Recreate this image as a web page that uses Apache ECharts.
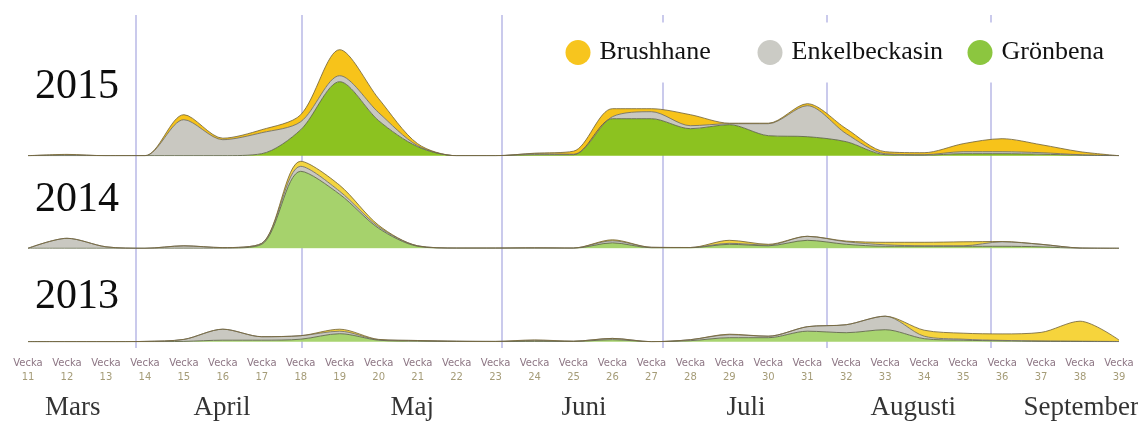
<!DOCTYPE html>
<html>
<head>
<meta charset="utf-8">
<script src="https://cdn.jsdelivr.net/npm/echarts@6/dist/echarts.min.js"></script>
<style>
html,body{margin:0;padding:0;background:#fff;}
#c{width:1138px;height:421px;}
</style>
</head>
<body>
<div id="c"></div>
<script>
// ---- data ----
const weeks = [11,12,13,14,15,16,17,18,19,20,21,22,23,24,25,26,27,28,29,30,31,32,33,34,35,36,37,38,39];
const weekLabels = ['11','12','13','14','15','16','17','18','19','20','21','22','23','24','25','26','27','28','29','30','31','32','33','34','35','36','37','38','39'];
const years = ['2015','2014','2013'];
const seriesNames = ['Brushhane','Enkelbeckasin','Grönbena'];

// 2015
const gron2015  = [0,0,0,0,0,0,2,26,74,35,9,0,0,1,1,37,37,27,31,20,19,14,1,0.5,2,2,1.5,0.5,0];
const enkel2015 = [0,0.8,0,0,36,16,21,8,6,8,1,0,0,1,0.5,2,7,3,1,12,31,8,1,0.5,2,2,1.5,0.5,0];
const brush2015 = [0,0.5,0,0,5,1.5,3,7,26,14,2,0,0,0.5,3,8,3,11,0.5,0.5,2,5,2,2,8,13,8,3,0];
// 2014
const gron2014  = [0,0,0,0,0,0,4,77,54,20,2,0,0,0,0,5.5,0.5,0.5,4,2.5,8,4,2,2,2,2,1.5,0,0];
const enkel2014 = [0,10,1.5,0,2.5,0.7,1,5,3,1.5,0.5,0.3,0.3,0.5,0.3,2,0.5,0.3,1,0.7,4,2.5,1.5,0.5,0.5,4.5,2.5,0.3,0];
const brush2014 = [0,0,0,0,0,0,0,5,6,1.5,0,0,0,0,0,1,0,0,3,0.8,0,0.7,2.5,3.5,4,0.3,0,0,0];
// 2013
const gron2013  = [0,0,0,0,0.3,1.5,1.5,2.5,8,1.5,0.5,0.2,0.1,0.3,0.2,2,0,1,4,4,10.5,9,12,3,1.5,0.8,0.3,0.2,0];
const enkel2013 = [0,0,0,0.3,2,11,3.5,3.5,2.5,0.5,0.7,0.3,0.2,1,0.3,1.3,0,1,3,1.5,4.5,8,13.5,2.5,1,0.5,0.5,0.3,0.2];
const brush2013 = [0,0,0,0,0,0,0,0,2,0.3,0,0,0,0.5,0,0,0,0,0.5,0,0,0,0,6,6,6.5,8.5,20,1.5];

const yearData = [
  [gron2015, enkel2015, brush2015],
  [gron2014, enkel2014, brush2014],
  [gron2013, enkel2013, brush2013]
];

const monthNames = ['Mars','April','Maj','Juni','Juli','Augusti','September'];
const monthCenters = [12.15, 15.98, 20.86, 25.27, 29.43, 33.72, 38.03];
const monthBoundaries = [13.77, 18.03, 23.17, 27.30, 31.51, 35.72];

// ---- styles ----
const SERIF = '"Liberation Serif","Times New Roman",serif';
const greens = ['#8cc220', '#a6d26c', '#a8d470'];
const grays = ['#c9c8c1', '#c9c8c1', '#c9c8c1'];
const yellows = ['#f7c31a', '#f3d541', '#f6d43c'];
const panelGrids = [
  {left: 28, right: 19, top: 35.7, height: 120},
  {left: 28, right: 19, top: 148.3, height: 100},
  {left: 28, right: 19, top: 251.7, height: 90}
];
const panelMax = [120, 100, 90];
const yearCenterY = [87, 200, 297];

const grids = panelGrids.slice();
grids.push({left: 28, right: 19, top: 15, height: 333});   // overlay for month lines
grids.push({left: 28, right: 19, top: 396, height: 24});   // month names

const xAxes = [], yAxes = [];
for (let i = 0; i < 3; i++) {
  const isBottom = (i === 2);
  xAxes.push({
    type: 'category', gridIndex: i, data: weekLabels, boundaryGap: false,
    show: isBottom,
    axisLine: {show: false}, axisTick: {show: false}, splitLine: {show: false},
    axisLabel: isBottom ? {
      show: true, margin: 15, interval: 0,
      formatter: function (v) { return '{v|Vecka}\n{n|' + v + '}'; },
      rich: {
        v: {color: '#8d7684', fontSize: 10, fontFamily: '"DejaVu Sans",sans-serif', lineHeight: 14},
        n: {color: '#a59c78', fontSize: 10, fontFamily: '"DejaVu Sans",sans-serif', lineHeight: 14}
      }
    } : {show: false}
  });
  yAxes.push({type: 'value', gridIndex: i, min: 0, max: panelMax[i], show: false, splitLine: {show: false}});
}
for (let i = 3; i < 5; i++) {
  xAxes.push({type: 'value', gridIndex: i, min: 11, max: 39, interval: 1, show: false, splitLine: {show: false}});
  yAxes.push({type: 'value', gridIndex: i, min: 0, max: 1, show: false, splitLine: {show: false}});
}

const series = [];
// month boundary lines (behind areas)
series.push({
  type: 'line', xAxisIndex: 3, yAxisIndex: 3, data: [[11, 0]], symbol: 'none',
  lineStyle: {opacity: 0}, z: 1, silent: true,
  markLine: {
    silent: true, z: 1, symbol: ['none', 'none'], label: {show: false},
    lineStyle: {color: '#b9b9e6', width: 1.5, type: 'solid'},
    data: monthBoundaries.map(v => ({xAxis: v}))
  }
});

const names = ['Grönbena', 'Enkelbeckasin', 'Brushhane'];
const lineCols = ['#5b6342', '#6c6c66', '#77673a'];
for (let p = 0; p < 3; p++) {
  const cols = [greens[p], grays[p], yellows[p]];
  for (let s = 0; s < 3; s++) {
    series.push({
      name: names[s], type: 'line', xAxisIndex: p, yAxisIndex: p,
      stack: 'y' + p, smooth: 0.3, symbol: 'none', z: 3,
      data: yearData[p][s],
      itemStyle: {color: cols[s]},
      lineStyle: {color: lineCols[s], width: 1, opacity: 0.85},
      areaStyle: {color: cols[s], opacity: 1}
    });
  }
}

// month names
series.push({
  type: 'scatter', xAxisIndex: 4, yAxisIndex: 4, symbolSize: 0, silent: true,
  data: monthNames.map((m, i) => ({name: m, value: [monthCenters[i], 0.5]})),
  label: {show: true, position: 'inside', formatter: '{b}', fontFamily: SERIF, fontSize: 27, color: '#000000'}
});

const legendColors = {'Brushhane': '#f7c51e', 'Enkelbeckasin': '#cbcbc5', 'Grönbena': '#8cc63f'};
const legendLefts = [559.5, 751.5, 961.5];
const legends = seriesNames.map((n, i) => ({
  data: [{name: n, itemStyle: {color: legendColors[n], borderWidth: 0}}],
  left: legendLefts[i], top: 22.5, padding: [17, 6, 17, 6],
  backgroundColor: '#ffffff', icon: 'circle', itemWidth: 25, itemHeight: 25,
  selectedMode: false, z: 10,
  textStyle: {fontFamily: SERIF, fontSize: 26, color: '#111111', padding: [0, 0, 0, 4]}
}));

const graphics = years.map((y, i) => ({
  type: 'text', x: 35, y: yearCenterY[i], silent: true,
  style: {text: y, font: '42px ' + SERIF, fill: '#0d0d0d', verticalAlign: 'middle', align: 'left'}
}));

const chart = echarts.init(document.getElementById('c'));
chart.setOption({
  animation: false,
  backgroundColor: '#ffffff',
  grid: grids,
  xAxis: xAxes,
  yAxis: yAxes,
  legend: legends,
  graphic: graphics,
  series: series
});
</script>
</body>
</html>
